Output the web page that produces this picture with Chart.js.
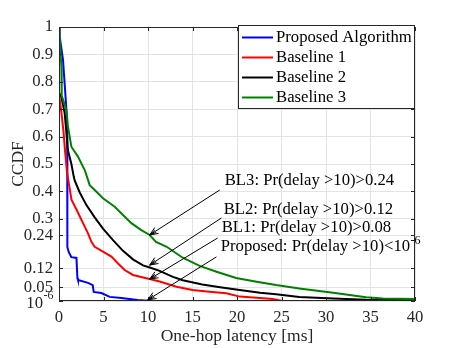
<!DOCTYPE html>
<html><head><meta charset="utf-8">
<script src="https://cdn.jsdelivr.net/npm/chart.js@4/dist/chart.umd.min.js"></script>
<style>html,body{margin:0;padding:0;background:#fff;}</style>
</head><body>
<canvas id="c" width="457" height="348"></canvas>
<script>
// ---- data ----
const seriesNames = ['Proposed Algorithm', 'Baseline 1', 'Baseline 2', 'Baseline 3'];
const seriesColors = ['#0000ff', '#ff0000', '#000000', '#008000'];

const proposedX = [0, 0.08, 0.45, 0.64, 0.83, 0.92, 0.94, 1.09, 1.39, 1.96, 2.07, 2.13, 3.26, 3.79, 3.9, 4.76, 5.7, 7.0, 8.84, 10.4, 40];
const proposedY = [1, 0.965, 0.88, 0.79, 0.70, 0.6, 0.197, 0.179, 0.16, 0.157, 0.084, 0.077, 0.066, 0.058, 0.033, 0.029, 0.015, 0.011, 0.004, 0, 0];

const baseline1X = [0, 0.3, 0.5, 0.7, 0.9, 1.2, 1.4, 1.95, 2.7, 3.26, 3.64, 4.01, 4.94, 5.89, 6.63, 7.38, 8.31, 9.82, 10.2, 11.3, 13.2, 15.0, 16.9, 18.8, 20.3, 22.2, 24.0, 25.1, 40];
const baseline1Y = [0.758, 0.68, 0.62, 0.54, 0.47, 0.41, 0.37, 0.335, 0.284, 0.247, 0.216, 0.198, 0.18, 0.162, 0.137, 0.113, 0.095, 0.083, 0.08, 0.071, 0.052, 0.04, 0.034, 0.028, 0.016, 0.012, 0.007, 0, 0];

const baseline2X = [0, 0.27, 0.64, 0.83, 1.0, 1.39, 1.65, 1.76, 2.33, 3.08, 4.01, 4.94, 6.07, 7.19, 8.31, 9.44, 10.2, 11.3, 12.8, 13.9, 16.1, 18.1, 20.3, 22.6, 24.4, 27, 30.8, 34.5, 40];
const baseline2Y = [0.76, 0.745, 0.685, 0.613, 0.551, 0.5, 0.455, 0.44, 0.396, 0.35, 0.305, 0.264, 0.222, 0.183, 0.152, 0.13, 0.122, 0.11, 0.088, 0.076, 0.06, 0.05, 0.04, 0.03, 0.025, 0.015, 0.009, 0.005, 0.004];

const baseline3X = [0, 0.27, 0.3, 0.83, 1.01, 1.39, 2.13, 2.89, 3.26, 3.45, 4.01, 4.94, 6.26, 7.19, 8.13, 9.25, 10.19, 10.9, 12.1, 13.9, 15.8, 17.7, 19.9, 22.2, 24.4, 27, 30.8, 34.5, 36.4, 40];
const baseline3Y = [1, 0.855, 0.75, 0.697, 0.636, 0.563, 0.527, 0.478, 0.442, 0.423, 0.405, 0.375, 0.344, 0.314, 0.284, 0.259, 0.241, 0.216, 0.198, 0.158, 0.128, 0.107, 0.084, 0.07, 0.058, 0.046, 0.03, 0.014, 0.009, 0.007];

const xTicks = [0, 5, 10, 15, 20, 25, 30, 35, 40];
const yTicks = [0, 0.05, 0.12, 0.24, 0.3, 0.4, 0.5, 0.6, 0.7, 0.8, 0.9, 1];
const yTickLabels = ['', '0.05', '0.12', '0.24', '0.3', '0.4', '0.5', '0.6', '0.7', '0.8', '0.9', '1'];

const annotationTexts = ['BL3: Pr(delay >10)>0.24', 'BL2: Pr(delay >10)>0.12', 'BL1: Pr(delay >10)>0.08', 'Proposed: Pr(delay >10)<10'];
const annotationSup = ['', '', '', '-6'];
const annotationX = [18.62, 18.5, 18.28, 18.17];
const annotationY = [0.438, 0.332, 0.266, 0.197];
const arrowFromX = [18.06, 18.25, 17.83, 17.69];
const arrowFromY = [0.405, 0.303, 0.230, 0.161];
const arrowToX = [10.19, 10.19, 10.19, 9.97];
const arrowToY = [0.241, 0.131, 0.080, 0.004];

// ---- chart ----
const FONT = '"Liberation Serif", "Times New Roman", serif';
const AX = '#262626';
const toPts = (xs, ys) => xs.map((v, i) => ({x: v, y: ys[i]}));
const seriesX = [proposedX, baseline1X, baseline2X, baseline3X];
const seriesY = [proposedY, baseline1Y, baseline2Y, baseline3Y];

const datasets = seriesNames.map((n, i) => ({
  label: n,
  data: toPts(seriesX[i], seriesY[i]),
  borderColor: seriesColors[i],
  backgroundColor: seriesColors[i],
  borderWidth: 2,
  pointRadius: 0,
  tension: 0,
  fill: false,
  order: 3 - i
}));

const deco = {
  id: 'deco',
  afterDatasetsDraw(chart) {
    const {ctx, chartArea: a, scales: {x, y}} = chart;
    ctx.save();
    // axes box
    ctx.strokeStyle = AX; ctx.lineWidth = 1;
    ctx.strokeRect(a.left + 0.5, a.top + 0.5, a.right - a.left - 1, a.bottom - a.top - 1);
    // inward ticks
    ctx.beginPath();
    xTicks.forEach(v => {
      const px = Math.round(x.getPixelForValue(v)) + 0.5;
      ctx.moveTo(px, a.bottom); ctx.lineTo(px, a.bottom - 4);
      ctx.moveTo(px, a.top); ctx.lineTo(px, a.top + 4);
    });
    yTicks.forEach(v => {
      const py = Math.round(y.getPixelForValue(v)) + 0.5;
      ctx.moveTo(a.left, py); ctx.lineTo(a.left + 4, py);
      ctx.moveTo(a.right, py); ctx.lineTo(a.right - 4, py);
    });
    ctx.stroke();
    // 10^-6 tick label
    const p0 = y.getPixelForValue(0);
    ctx.fillStyle = AX;
    ctx.font = '16.7px ' + FONT;
    ctx.textAlign = 'right'; ctx.textBaseline = 'middle';
    ctx.fillText('10', a.left - 16, p0 + 3);
    ctx.font = '12px ' + FONT;
    ctx.textAlign = 'left';
    ctx.fillText('-6', a.left - 15.5, p0 - 5);
    // arrows
    ctx.strokeStyle = '#000'; ctx.lineWidth = 1;
    for (let i = 0; i < arrowFromX.length; i++) {
      const x1 = x.getPixelForValue(arrowFromX[i]), y1 = y.getPixelForValue(arrowFromY[i]);
      const x2 = x.getPixelForValue(arrowToX[i]), y2 = y.getPixelForValue(arrowToY[i]);
      const ang = Math.atan2(y2 - y1, x2 - x1);
      const L = 9, th = 0.4;
      ctx.beginPath();
      ctx.moveTo(x1, y1); ctx.lineTo(x2, y2);
      ctx.moveTo(x2 - L * Math.cos(ang - th), y2 - L * Math.sin(ang - th));
      ctx.lineTo(x2, y2);
      ctx.lineTo(x2 - L * Math.cos(ang + th), y2 - L * Math.sin(ang + th));
      ctx.moveTo(x2 - L * 0.8 * Math.cos(ang - th * 0.5), y2 - L * 0.8 * Math.sin(ang - th * 0.5));
      ctx.lineTo(x2, y2);
      ctx.lineTo(x2 - L * 0.8 * Math.cos(ang + th * 0.5), y2 - L * 0.8 * Math.sin(ang + th * 0.5));
      ctx.stroke();
    }
    // annotation texts
    ctx.fillStyle = '#000';
    ctx.textAlign = 'left'; ctx.textBaseline = 'middle';
    for (let i = 0; i < annotationTexts.length; i++) {
      const px = x.getPixelForValue(annotationX[i]), py = y.getPixelForValue(annotationY[i]);
      ctx.font = '16.7px ' + FONT;
      ctx.fillText(annotationTexts[i], px, py);
      if (annotationSup[i]) {
        const w = ctx.measureText(annotationTexts[i]).width;
        ctx.font = '12px ' + FONT;
        ctx.fillText(annotationSup[i], px + w + 0.5, py - 6);
      }
    }
    // legend
    const lx = 238.5, ly = 25.5, lw = 176, lh = 83;
    ctx.fillStyle = '#fff';
    ctx.fillRect(lx, ly, lw, lh);
    ctx.strokeStyle = AX; ctx.lineWidth = 1;
    ctx.strokeRect(lx, ly, lw, lh);
    ctx.font = '16.7px ' + FONT;
    ctx.textBaseline = 'middle'; ctx.textAlign = 'left';
    seriesNames.forEach((n, i) => {
      const ry = 37.5 + i * 20;
      ctx.strokeStyle = seriesColors[i]; ctx.lineWidth = 2;
      ctx.beginPath(); ctx.moveTo(242, ry); ctx.lineTo(273, ry); ctx.stroke();
      ctx.fillStyle = '#000';
      ctx.fillText(n, 276, ry);
    });
    ctx.restore();
  }
};

new Chart(document.getElementById('c'), {
  type: 'line',
  data: {datasets},
  options: {
    responsive: false,
    animation: false,
    devicePixelRatio: 1,
    layout: {padding: {left: 0, right: 42, top: 27, bottom: 0}},
    plugins: {legend: {display: false}, tooltip: {enabled: false}},
    scales: {
      x: {
        type: 'linear', min: 0, max: 40,
        afterBuildTicks: s => { s.ticks = xTicks.map(v => ({value: v})); },
        afterFit: s => { s.height = 47; },
        grid: {color: '#e3e3e3', lineWidth: 1, drawTicks: false},
        border: {display: false},
        ticks: {padding: 7, color: AX, font: {family: FONT, size: 16.7}, maxRotation: 0, autoSkip: false},
        title: {display: true, text: 'One-hop latency [ms]', color: AX, font: {family: FONT, size: 17.5}, padding: {top: 0, bottom: 1}}
      },
      y: {
        type: 'linear', min: 0, max: 1,
        afterBuildTicks: s => { s.ticks = yTicks.map(v => ({value: v})); },
        afterFit: s => { s.width = 59; },
        grid: {color: '#e3e3e3', lineWidth: 1, drawTicks: false},
        border: {display: false},
        ticks: {padding: 6, color: AX, font: {family: FONT, size: 16.7}, autoSkip: false,
          callback: (v) => { const i = yTicks.indexOf(v); return i >= 0 ? yTickLabels[i] : ''; }},
        title: {display: true, text: 'CCDF', color: AX, font: {family: FONT, size: 17.5}, padding: {top: 8, bottom: 0}}
      }
    }
  },
  plugins: [deco]
});
</script>
</body></html>
